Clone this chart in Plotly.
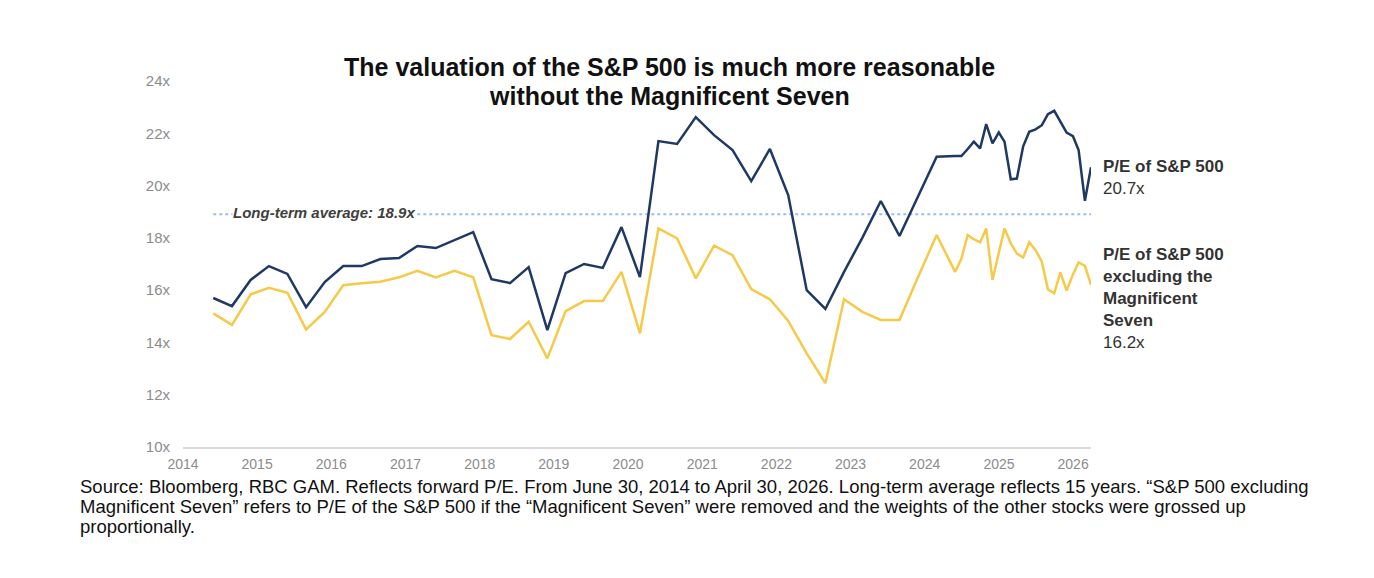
import pandas as pd
import plotly.graph_objects as go

# ---- data ----
quarter_dates = pd.date_range("2014-06-30", "2024-06-30", freq="QE")
month_dates = pd.date_range("2024-07-31", "2026-04-30", freq="ME")
dates = list(quarter_dates) + list(month_dates)

sp500_pe = [
    15.70, 15.39, 16.39, 16.92, 16.62, 15.35, 16.31, 16.92, 16.92, 17.19,
    17.23, 17.69, 17.61, 17.92, 18.22, 16.42, 16.27, 16.88, 14.47, 16.65,
    17.00, 16.85, 18.41, 16.50, 21.70, 21.59, 22.62, 21.93, 21.36, 20.17,
    21.40, 19.64, 16.00, 15.28, 16.70, 18.00, 19.41, 18.07, 19.60, 21.10,
    21.13,
    21.13, 21.40, 21.68, 21.42, 22.35, 21.61, 22.03, 21.68, 20.24, 20.27,
    21.50, 22.06, 22.15, 22.31, 22.73, 22.86, 22.45, 22.03, 21.89, 21.36,
    19.42, 20.70,
]

sp500_ex_mag7_pe = [
    15.11, 14.67, 15.84, 16.09, 15.90, 14.50, 15.17, 16.19, 16.26, 16.32,
    16.49, 16.74, 16.49, 16.74, 16.49, 14.28, 14.13, 14.79, 13.39, 15.20,
    15.58, 15.58, 16.70, 14.35, 18.36, 17.98, 16.45, 17.70, 17.34, 16.04,
    15.65, 14.82, 13.58, 12.44, 15.65, 15.17, 14.86, 14.86, 16.51, 18.11,
    16.70,
    17.21, 18.11, 17.95, 17.83, 18.36, 16.39, 17.38, 18.36, 17.79, 17.40,
    17.25, 17.83, 17.53, 17.09, 16.03, 15.88, 16.68, 15.98, 16.60, 17.06,
    16.93, 16.20,
]

long_term_avg = 18.9
y_ticks = [10, 12, 14, 16, 18, 20, 22, 24]
x_tick_years = list(range(2014, 2027))

title_lines = [
    "The valuation of the S&P 500 is much more reasonable",
    "without the Magnificent Seven",
]
source_lines = [
    "Source: Bloomberg, RBC GAM. Reflects forward P/E. From June 30, 2014 to April 30, 2026. "
    "Long-term average reflects 15 years. \u201cS&P 500 excluding",
    "Magnificent Seven\u201d refers to P/E of the S&P 500 if the \u201cMagnificent Seven\u201d "
    "were removed and the weights of the other stocks were grossed up",
    "proportionally.",
]

FONT = "Liberation Sans, Arial, sans-serif"
BLUE = "#1F3864"
YELLOW = "#F7C948"
AVG = "#9CBDEB"

fig = go.Figure()

fig.add_trace(go.Scatter(
    x=[dates[0], dates[-1]], y=[long_term_avg, long_term_avg],
    mode="lines", line=dict(color=AVG, width=2, dash="dot"),
    hoverinfo="skip", showlegend=False))

fig.add_trace(go.Scatter(
    x=dates, y=sp500_ex_mag7_pe, mode="lines",
    line=dict(color=YELLOW, width=2.5), name="P/E of S&P 500 excluding the Magnificent Seven",
    showlegend=False))

fig.add_trace(go.Scatter(
    x=dates, y=sp500_pe, mode="lines",
    line=dict(color=BLUE, width=2.5), name="P/E of S&P 500",
    showlegend=False))

fig.update_layout(
    width=1374, height=578,
    margin=dict(l=183, r=283, t=81, b=131),
    paper_bgcolor="white", plot_bgcolor="white",
    font=dict(family=FONT),
    xaxis=dict(
        type="date",
        range=["2014-02-01", "2026-04-30"],
        tickvals=[f"{y}-02-01" for y in x_tick_years],
        ticktext=[str(y) for y in x_tick_years],
        showgrid=False, zeroline=False,
        showline=True, linecolor="#D9D9D9", linewidth=1.5,
        ticks="", ticklabelstandoff=3,
        tickfont=dict(size=14, color="#8C8C8C", family=FONT)),
    yaxis=dict(
        range=[10, 24], tickvals=y_ticks,
        ticktext=[f"{v}x" for v in y_ticks],
        showgrid=False, zeroline=False, showline=False, ticks="",
        ticklabelstandoff=12,
        tickfont=dict(size=15, color="#8C8C8C", family=FONT)),
)

# title (two lines, tight line spacing as in the original)
for i, line in enumerate(title_lines):
    fig.add_annotation(
        xref="paper", yref="paper", x=(669 - 183) / 908, y=(447 - (67 + 29 * i)) / 366,
        xanchor="center", yanchor="middle", showarrow=False,
        text=f"<b>{line}</b>", font=dict(size=25, color="#111111", family=FONT))

fig.add_annotation(
    xref="paper", yref="y", x=(232 - 183) / 908, y=long_term_avg,
    xanchor="left", yanchor="middle", yshift=2,
    text="<b><i>Long-term average: 18.9x</i></b>", showarrow=False,
    bgcolor="white", borderpad=0,
    font=dict(size=15, color="#404040", family=FONT))

fig.add_annotation(
    xref="paper", yref="paper", x=1.011, y=(447 - 155) / 366,
    xanchor="left", yanchor="top", align="left", showarrow=False,
    text=f"<b>P/E of S&P 500</b><br>{sp500_pe[-1]:.1f}x",
    font=dict(size=17, color="#333333", family=FONT))

fig.add_annotation(
    xref="paper", yref="paper", x=1.011, y=(447 - 243) / 366,
    xanchor="left", yanchor="top", align="left", showarrow=False,
    text=f"<b>P/E of S&P 500<br>excluding the<br>Magnificent<br>Seven</b><br>{sp500_ex_mag7_pe[-1]:.1f}x",
    font=dict(size=17, color="#333333", family=FONT))

for i, line in enumerate(source_lines):
    fig.add_annotation(
        xref="paper", yref="paper", x=(78 - 183) / 908, y=(447 - (486 + 20 * i)) / 366,
        xanchor="left", yanchor="middle", align="left", showarrow=False,
        text=line, font=dict(size=18.5, color="#111111", family=FONT))

fig.write_html("out.html")
